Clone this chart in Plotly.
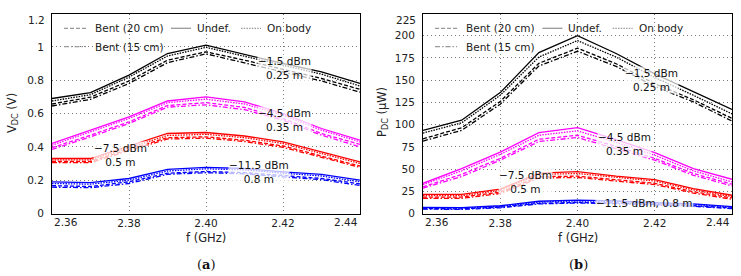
import plotly.graph_objects as go

# ---------------- data ----------------
freq = [2.36, 2.37, 2.38, 2.39, 2.40, 2.41, 2.42, 2.43, 2.44]

# V_DC (V), panel (a)
vdc_m1p5_undef  = [0.690, 0.725, 0.830, 0.960, 1.010, 0.955, 0.900, 0.850, 0.780]
vdc_m1p5_onbody = [0.675, 0.713, 0.818, 0.945, 0.997, 0.943, 0.888, 0.836, 0.765]
vdc_m1p5_bent20 = [0.657, 0.698, 0.795, 0.920, 0.970, 0.920, 0.865, 0.810, 0.745]
vdc_m1p5_bent15 = [0.645, 0.685, 0.780, 0.905, 0.958, 0.905, 0.850, 0.795, 0.728]

vdc_m4p5_undef  = [0.420, 0.500, 0.580, 0.675, 0.700, 0.670, 0.600, 0.510, 0.440]
vdc_m4p5_onbody = [0.410, 0.490, 0.570, 0.665, 0.686, 0.657, 0.590, 0.500, 0.430]
vdc_m4p5_bent20 = [0.395, 0.470, 0.550, 0.648, 0.665, 0.636, 0.570, 0.480, 0.415]
vdc_m4p5_bent15 = [0.385, 0.460, 0.540, 0.638, 0.652, 0.623, 0.560, 0.470, 0.400]

vdc_m7p5_undef  = [0.330, 0.330, 0.405, 0.480, 0.486, 0.465, 0.430, 0.370, 0.310]
vdc_m7p5_onbody = [0.322, 0.322, 0.395, 0.468, 0.475, 0.455, 0.420, 0.360, 0.300]
vdc_m7p5_bent20 = [0.312, 0.312, 0.385, 0.455, 0.460, 0.440, 0.405, 0.345, 0.285]
vdc_m7p5_bent15 = [0.305, 0.305, 0.378, 0.447, 0.452, 0.432, 0.397, 0.338, 0.277]

vdc_m11p5_undef  = [0.190, 0.185, 0.210, 0.265, 0.277, 0.270, 0.250, 0.235, 0.200]
vdc_m11p5_onbody = [0.180, 0.176, 0.200, 0.255, 0.268, 0.262, 0.242, 0.225, 0.190]
vdc_m11p5_bent20 = [0.167, 0.162, 0.190, 0.242, 0.252, 0.245, 0.228, 0.210, 0.178]
vdc_m11p5_bent15 = [0.158, 0.155, 0.180, 0.235, 0.245, 0.238, 0.220, 0.203, 0.168]

# P_DC (uW), panel (b)
pdc_m1p5_undef  = [93.5, 105.0, 136.0, 181.0, 200.0, 180.0, 157.0, 137.0, 117.0]
pdc_m1p5_onbody = [90.5, 102.0, 133.0, 176.0, 194.5, 176.0, 153.0, 133.0, 112.0]
pdc_m1p5_bent20 = [84.0, 96.5, 126.0, 169.0, 186.0, 168.5, 146.0, 128.0, 107.0]
pdc_m1p5_bent15 = [81.5, 93.5, 123.0, 166.0, 182.5, 165.5, 143.0, 125.5, 104.0]

pdc_m4p5_undef  = [34.0, 50.5, 69.0, 91.0, 96.5, 83.0, 68.5, 50.5, 38.5]
pdc_m4p5_onbody = [32.5, 48.0, 66.5, 88.0, 93.0, 80.0, 65.5, 48.0, 35.5]
pdc_m4p5_bent20 = [30.0, 44.0, 62.0, 83.5, 88.0, 75.5, 62.0, 45.0, 33.0]
pdc_m4p5_bent15 = [28.5, 41.5, 60.0, 81.0, 85.5, 73.0, 60.0, 43.0, 31.0]

pdc_m7p5_undef  = [21.5, 21.5, 27.5, 45.5, 47.0, 42.0, 38.0, 28.0, 20.5]
pdc_m7p5_onbody = [20.0, 20.0, 26.0, 44.0, 45.0, 40.5, 36.5, 26.5, 19.0]
pdc_m7p5_bent20 = [18.5, 18.5, 24.0, 41.5, 42.0, 38.0, 34.0, 24.5, 17.5]
pdc_m7p5_bent15 = [17.0, 17.0, 22.5, 40.0, 40.5, 36.5, 32.5, 23.0, 16.0]

pdc_m11p5_undef  = [7.0, 6.7, 8.7, 13.8, 15.0, 14.3, 12.3, 10.8, 7.8]
pdc_m11p5_onbody = [6.4, 6.1, 7.9, 12.8, 14.1, 13.5, 11.5, 10.0, 7.1]
pdc_m11p5_bent20 = [5.5, 5.2, 7.1, 11.5, 12.5, 11.8, 10.2, 8.7, 6.2]
pdc_m11p5_bent15 = [4.9, 4.7, 6.4, 10.8, 11.8, 11.1, 9.5, 8.1, 5.5]

# tick labels
x_tickvals = [2.36, 2.38, 2.40, 2.42, 2.44]
x_ticktext = ["2.36", "2.38", "2.40", "2.42", "2.44"]
v_tickvals = [0, 0.2, 0.4, 0.6, 0.8, 1.0, 1.2]
v_ticktext = ["0", "0.2", "0.4", "0.6", "0.8", "1", "1.2"]
p_tickvals = [0, 25, 50, 75, 100, 125, 150, 175, 200, 225]
p_ticktext = ["0", "25", "50", "75", "100", "125", "150", "175", "200", "225"]

legend_names = ["Bent (20 cm)", "Undef.", "On body", "Bent (15 cm)"]

# annotation labels
labels_a = [("\u22121.5 dBm<br>0.25 m", 2.4204, 0.872),
            ("\u22124.5 dBm<br>0.35 m", 2.4204, 0.560),
            ("\u22127.5 dBm<br>0.5 m", 2.3779, 0.350),
            ("\u221211.5 dBm<br>0.8 m", 2.4137, 0.248)]
labels_b = [("\u22121.5 dBm<br>0.25 m", 2.4192, 150.6),
            ("\u22124.5 dBm<br>0.35 m", 2.4121, 77.8),
            ("\u22127.5 dBm<br>0.5 m", 2.3866, 35.3),
            ("\u221211.5 dBm, 0.8 m", 2.4173, 11.8)]

# ---------------- styles ----------------
FONT = "DejaVu Sans"
colors = {"m1p5": "#000000", "m4p5": "#ff00ff", "m7p5": "#ff0000", "m11p5": "#0000ff"}
dashes = {"bent15": "5px,2px,1.5px,2px", "bent20": "4px,2px", "onbody": "1.5px,1.2px", "undef": "solid"}
LW = 1.3

series_a = {
    "m1p5": {"undef": vdc_m1p5_undef, "onbody": vdc_m1p5_onbody, "bent20": vdc_m1p5_bent20, "bent15": vdc_m1p5_bent15},
    "m4p5": {"undef": vdc_m4p5_undef, "onbody": vdc_m4p5_onbody, "bent20": vdc_m4p5_bent20, "bent15": vdc_m4p5_bent15},
    "m7p5": {"undef": vdc_m7p5_undef, "onbody": vdc_m7p5_onbody, "bent20": vdc_m7p5_bent20, "bent15": vdc_m7p5_bent15},
    "m11p5": {"undef": vdc_m11p5_undef, "onbody": vdc_m11p5_onbody, "bent20": vdc_m11p5_bent20, "bent15": vdc_m11p5_bent15},
}
series_b = {
    "m1p5": {"undef": pdc_m1p5_undef, "onbody": pdc_m1p5_onbody, "bent20": pdc_m1p5_bent20, "bent15": pdc_m1p5_bent15},
    "m4p5": {"undef": pdc_m4p5_undef, "onbody": pdc_m4p5_onbody, "bent20": pdc_m4p5_bent20, "bent15": pdc_m4p5_bent15},
    "m7p5": {"undef": pdc_m7p5_undef, "onbody": pdc_m7p5_onbody, "bent20": pdc_m7p5_bent20, "bent15": pdc_m7p5_bent15},
    "m11p5": {"undef": pdc_m11p5_undef, "onbody": pdc_m11p5_onbody, "bent20": pdc_m11p5_bent20, "bent15": pdc_m11p5_bent15},
}

fig = go.Figure()
for series, xa, ya in [(series_a, "x", "y"), (series_b, "x2", "y2")]:
    for grp, states in series.items():
        for st in ["bent15", "bent20", "onbody", "undef"]:
            fig.add_trace(go.Scatter(
                x=freq, y=states[st], mode="lines", xaxis=xa, yaxis=ya,
                line=dict(color=colors[grp], width=LW, dash=dashes[st]),
                showlegend=False, hoverinfo="skip"))

W, H = 741, 276
dom_a = [52 / W, 360 / W]
dom_b = [423 / W, 732 / W]
dom_y = [1 - 213.5 / H, 1 - 13.5 / H]

axis_common = dict(showline=True, linecolor="black", linewidth=1, mirror=True, automargin=False,
                   showgrid=True, gridcolor="#777777", griddash="1px,3px", gridwidth=1,
                   zeroline=False, ticks="", tickfont=dict(family=FONT, size=10.5, color="#222222"))

fig.update_layout(
    template="none",
    width=W, height=H, margin=dict(l=0, r=0, t=0, b=0, pad=0, autoexpand=False),
    paper_bgcolor="white", plot_bgcolor="white", showlegend=False,
    xaxis=dict(domain=dom_a, anchor="y", range=[2.36, 2.44], tickvals=x_tickvals,
               ticktext=[" "] + x_ticktext[1:-1] + [" "], ticklabelstandoff=0, **axis_common),
    yaxis=dict(domain=dom_y, anchor="x", range=[0, 1.2], tickvals=v_tickvals,
               ticktext=v_ticktext[:-1] + [" "], ticklabelstandoff=5, **axis_common),
    xaxis2=dict(domain=dom_b, anchor="y2", range=[2.36, 2.44], tickvals=x_tickvals,
                ticktext=[" "] + x_ticktext[1:-1] + [" "], ticklabelstandoff=0, **axis_common),
    yaxis2=dict(domain=dom_y, anchor="x2", range=[0, 225], tickvals=p_tickvals,
                ticktext=p_ticktext[:-1] + [" "], ticklabelstandoff=5, **axis_common),
)

tickfont = dict(family=FONT, size=10.5, color="#222222")
ann = []
# edge tick labels (shifted inward as in the original)
for xr, yr in [("x", "y"), ("x2", "y2")]:
    ann.append(dict(text=x_ticktext[0], x=x_tickvals[0], xref=xr, y=0, yref=yr + " domain",
                    xanchor="left", yanchor="top", yshift=0, showarrow=False, font=tickfont))
    ann.append(dict(text=x_ticktext[-1], x=x_tickvals[-1], xref=xr, y=0, yref=yr + " domain",
                    xanchor="right", yanchor="top", yshift=0, showarrow=False, font=tickfont))
ann.append(dict(text=v_ticktext[-1], x=0, xref="x domain", y=1, yref="y domain",
                xanchor="right", yanchor="top", xshift=-5, yshift=2, showarrow=False, font=tickfont))
ann.append(dict(text=p_ticktext[-1], x=0, xref="x2 domain", y=1, yref="y2 domain",
                xanchor="right", yanchor="top", xshift=-5, yshift=2, showarrow=False, font=tickfont))

# curve labels
lab_font = dict(family=FONT, size=10.5, color="#111111")
for txt, xv, yv in labels_a:
    ann.append(dict(text=txt, x=xv, y=yv, xref="x", yref="y", showarrow=False, align="center",
                    xanchor="center", yanchor="middle",
                    bgcolor="rgba(255,255,255,0.72)", borderpad=0, font=lab_font))
for txt, xv, yv in labels_b:
    ann.append(dict(text=txt, x=xv, y=yv, xref="x2", yref="y2", showarrow=False, align="center",
                    xanchor="center", yanchor="middle",
                    bgcolor="rgba(255,255,255,0.72)", borderpad=0, font=lab_font))

# axis titles and captions
tfont = dict(family=FONT, size=11.5, color="#222222")
cfont = dict(family="DejaVu Serif", size=13, color="#111111")
common = dict(xref="paper", yref="paper", showarrow=False, xanchor="center", yanchor="middle")
ann += [
    dict(text="V<sub>DC</sub> (V)", x=12 / W, y=1 - 113 / H, textangle=-90, font=tfont, **common),
    dict(text="P<sub>DC</sub> (\u00b5W)", x=382 / W, y=1 - 112 / H, textangle=-90, font=tfont, **common),
    dict(text="f (GHz)", x=206 / W, y=1 - 238 / H, font=tfont, **common),
    dict(text="f (GHz)", x=578 / W, y=1 - 238 / H, font=tfont, **common),
    dict(text="(<b>a</b>)", x=206 / W, y=1 - 264 / H, font=cfont, **common),
    dict(text="(<b>b</b>)", x=578 / W, y=1 - 264 / H, font=cfont, **common),
]

# in-plot legend (gray keys), positions in pixels from plot-area left edge
PW = 308.0
leg_font = dict(family=FONT, size=10.5, color="#222222")
leg_items = [  # name, dash, key x0, key x1, text x, row y (px from top of plot)
    (legend_names[0], dashes["bent20"], 12, 34, 41, 14.8),
    (legend_names[1], dashes["undef"], 119, 139, 143, 14.8),
    (legend_names[2], dashes["onbody"], 189, 209, 213, 14.8),
    (legend_names[3], dashes["bent15"], 12, 34, 41, 33.2),
]
shapes = []
for xr, yr in [("x domain", "y domain"), ("x2 domain", "y2 domain")]:
    for name, dsh, k0, k1, tx, ry in leg_items:
        yy = 1 - ry / 200.0
        shapes.append(dict(type="line", xref=xr, yref=yr, x0=k0 / PW, x1=k1 / PW, y0=yy, y1=yy,
                           line=dict(color="#999999", width=LW, dash=dsh)))
        ann.append(dict(text=name, x=tx / PW, y=yy, xref=xr, yref=yr, xanchor="left",
                        yanchor="middle", showarrow=False, font=leg_font))

fig.update_layout(annotations=ann, shapes=shapes)
fig.write_html("out.html")
